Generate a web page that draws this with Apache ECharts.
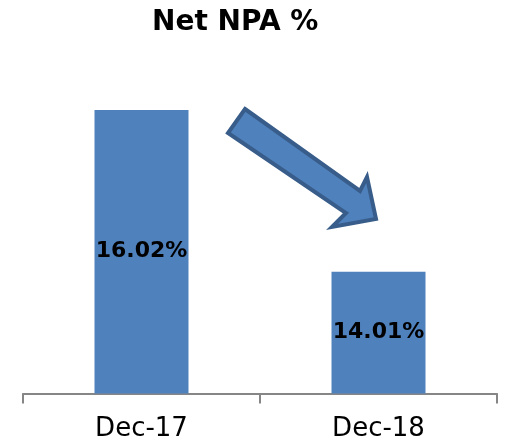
<!DOCTYPE html>
<html>
<head>
<meta charset="utf-8">
<script src="https://cdn.jsdelivr.net/npm/echarts@6/dist/echarts.min.js"></script>
<style>
  html, body { margin: 0; padding: 0; background: #fff; }
  #chart { width: 505px; height: 442px; }
</style>
</head>
<body>
<div id="chart"></div>
<script>
const periods = ["Dec-17", "Dec-18"];
const netNpa = [16.02, 14.01];

const chart = echarts.init(document.getElementById("chart"));

chart.setOption({
  animation: false,
  title: {
    text: "Net NPA %",
    left: 147,
    top: 4,
    textStyle: {
      fontFamily: "DejaVu Sans",
      fontWeight: "bold",
      fontSize: 28,
      color: "#000",
    },
  },
  grid: {
    left: 23,
    right: 8,
    top: 31,
    bottom: 48.5,
    outerBoundsMode: "none",
  },
  xAxis: {
    type: "category",
    data: periods,
    axisLine: {
      lineStyle: { color: "#868686", width: 2 },
    },
    axisTick: {
      show: true,
      length: 10,
      lineStyle: { color: "#868686", width: 2 },
    },
    axisLabel: {
      fontFamily: "DejaVu Sans",
      fontSize: 26,
      color: "#000",
      margin: 23,
    },
  },
  yAxis: {
    type: "value",
    min: 12.5,
    max: 17,
    show: false,
  },
  series: [
    {
      type: "bar",
      data: netNpa,
      barWidth: 94,
      itemStyle: { color: "#4f81bd" },
      label: {
        show: true,
        position: "inside",
        formatter: (p) => p.value.toFixed(2) + "%",
        fontFamily: "DejaVu Sans",
        fontWeight: "bold",
        fontSize: 22,
        color: "#000",
      },
    },
  ],
  graphic: [
    {
      type: "polygon",
      shape: {
        points: [
          [245, 109],
          [360, 191],
          [367, 177],
          [376, 219],
          [332, 227],
          [346, 213],
          [228, 133],
        ],
      },
      style: {
        fill: "#4f81bd",
        stroke: "#385d8a",
        lineWidth: 4,
        lineJoin: "miter",
      },
    },
  ],
});
</script>
</body>
</html>
